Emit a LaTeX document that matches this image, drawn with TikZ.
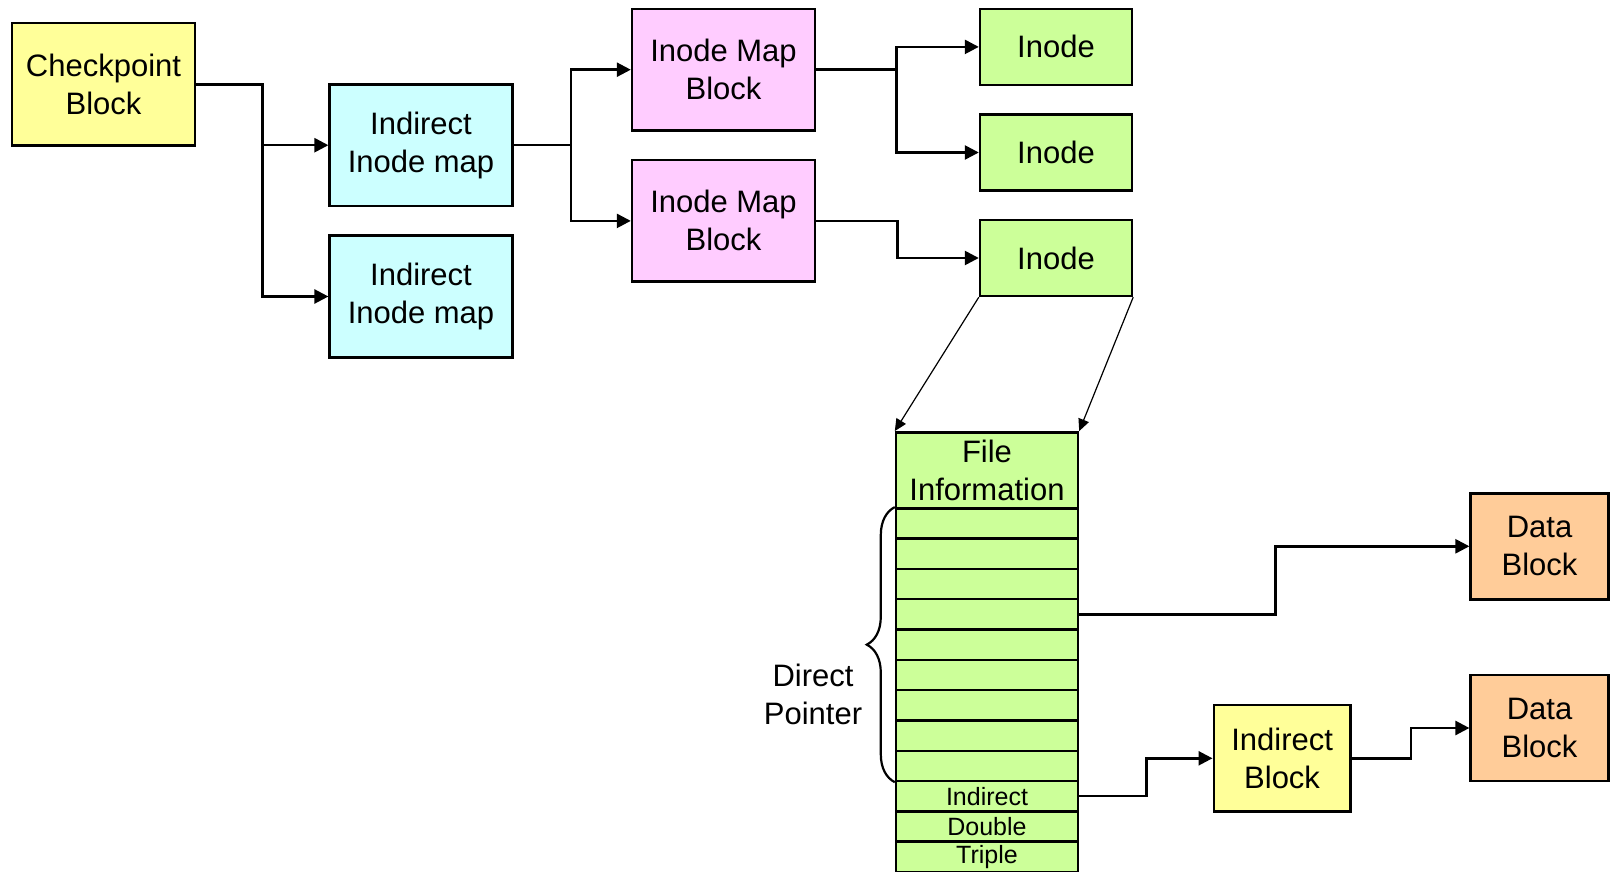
\documentclass[tikz,border=0pt]{standalone}
\usepackage{fontspec}
\setmainfont{Liberation Sans}
\usetikzlibrary{arrows.meta,decorations.pathreplacing}
\definecolor{ckptyellow}{HTML}{FFFF99}
\definecolor{mapcyan}{HTML}{CCFFFF}
\definecolor{mappink}{HTML}{FFCCFF}
\definecolor{inodegreen}{HTML}{CCFF99}
\definecolor{dataorange}{HTML}{FFCC99}
\tikzset{
  box/.style = {draw=black,line width=1.2pt,align=center,inner sep=0pt,font=\fontsize{15.5}{19}\selectfont},
  ckptbox/.style = {box,fill=ckptyellow,minimum width=91.4pt,minimum height=61.2pt},
  imapbox/.style = {box,fill=mapcyan,minimum width=91.4pt,minimum height=60.8pt},
  mapblock/.style = {box,fill=mappink,minimum width=91.5pt,minimum height=60.7pt},
  inodebox/.style = {box,fill=inodegreen,minimum width=76pt,minimum height=38pt},
  databox/.style = {box,fill=dataorange,minimum width=68.9pt,minimum height=53pt},
  indbox/.style = {box,fill=ckptyellow,minimum width=68.4pt,minimum height=53.3pt},
  %
  row/.style = {box,fill=inodegreen,minimum width=91pt,minimum height=15.15pt,font=\fontsize{12.5}{14}\selectfont},
  edge/.style = {->,>={Triangle[length=7pt,width=7pt]},line width=1.25pt,black},
  thin edge/.style = {->,>={Triangle[length=6pt,width=5.5pt]},line width=0.6pt,black},
}
\begin{document}
\begin{tikzpicture}[x=0.5pt,y=-0.5pt]
    \useasboundingbox (0,0) rectangle (1614,872);

    \node[ckptbox] at (103.5,84.5) (ckpt) {Checkpoint\\Block};
    \node[imapbox] at (421,145.2) (imap1) {Indirect\\Inode map};
    \node[imapbox] at (421,296.5) (imap2) {Indirect\\Inode map};
    \node[mapblock] at (723.5,69.7) (mb1) {Inode Map\\Block};
    \node[mapblock] at (723.5,220.9) (mb2) {Inode Map\\Block};
    \node[inodebox] at (1056,46.9) (ino1) {Inode};
    \node[inodebox] at (1056,152.5) (ino2) {Inode};
    \node[inodebox] at (1056,258) (ino3) {Inode};

    % the inode itself
    \node[row,minimum height=38pt,font=\fontsize{15.5}{19}\selectfont] at (987,470.3) (finfo) {File\\Information};
    \foreach \i in {1,...,9}
        \node[row] at (987,{508.3+(\i-0.5)*30.3}) (r\i) {};
    \node[row] at (987,{508.3+9.5*30.3}) (ind) {Indirect};
    \node[row] at (987,{508.3+10.5*30.3}) (dbl) {Double};
    \node[row] at (987,{508.3+11.5*30.3}) (tpl) {Triple};

    \node[indbox] at (1282.1,758.3) (indb) {Indirect\\Block};
    \node[databox] at (1539.5,546.3) (dat1) {Data\\Block};
    \node[databox] at (1539.5,728) (dat2) {Data\\Block};

    \draw[line width=1.1pt,decorate,decoration={brace,amplitude=14pt}] (r9.south west) -- (r1.north west);
    \node[box,draw=none] at (813,694) (dptr) {Direct\\Pointer};

    \coordinate (j1) at (262.4,84.5);
    \coordinate (j2) at (571,145.2);
    \coordinate (j3) at (896.4,69.7);

    \draw[edge] (ckpt.east) -- (j1) |- (imap1.west);
    \draw[edge] (j1) |- (imap2.west);
    \draw[edge] (imap1.east) -- (j2) |- (mb1.west);
    \draw[edge] (j2) |- (mb2.west);
    \draw[edge] (mb1.east) -- (j3) |- (ino1.west);
    \draw[edge] (j3) |- (ino2.west);
    \draw[edge] (mb2.east) -- ++(81.4,0) |- (ino3.west);

    \draw[thin edge] (ino3.south west) -- (finfo.north west);
    \draw[thin edge] (ino3.south east) -- (finfo.north east);

    \draw[edge] (r4.east) -- ++(196.5,0) |- (dat1.west);
    \draw[edge] (ind.east) -- ++(67.5,0) |- (indb.west);
    \draw[edge] (indb.east) -- ++(59.3,0) |- (dat2.west);

\end{tikzpicture}
\end{document}
